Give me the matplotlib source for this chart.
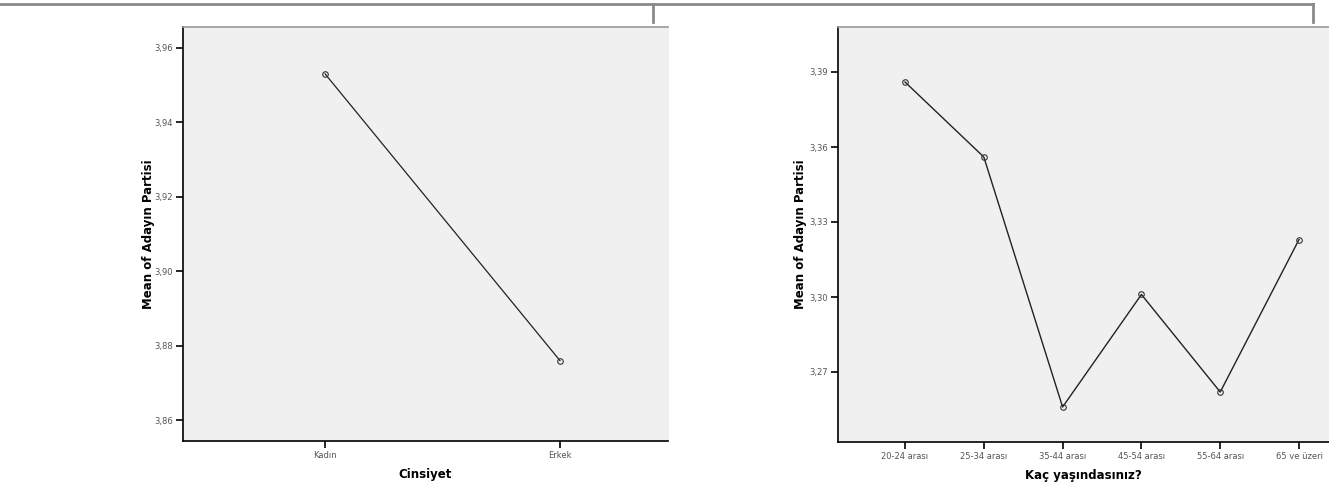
import matplotlib.pyplot as plt
from matplotlib.lines import Line2D
from matplotlib.ticker import FuncFormatter

# left panel: gender
gender_labels = ["Kadın", "Erkek"]
gender_means = [3.953, 3.876]
gender_ticks = [3.86, 3.88, 3.90, 3.92, 3.94, 3.96]

# right panel: age groups
age_labels = ["20-24 arası", "25-34 arası", "35-44 arası",
              "45-54 arası", "55-64 arası", "65 ve üzeri"]
age_means = [3.386, 3.356, 3.256, 3.301, 3.262, 3.323]
age_ticks = [3.27, 3.30, 3.33, 3.36, 3.39]

W, H = 1329, 495
fig = plt.figure(figsize=(W / 100, H / 100), dpi=100)
plt.rcParams['font.family'] = ['DejaVu Sans']


def box(x0, y0, x1, y1):
    # pixel box -> figure fraction rect
    return [x0 / W, 1 - y1 / H, (x1 - x0) / W, (y1 - y0) / H]


def comma(v, _):
    return f"{v:.2f}".replace(".", ",")


def style(ax, ticks, xlabel, ypad):
    ax.set_facecolor("#f0f0f0")
    ax.spines["top"].set_color("#999999")
    ax.spines["top"].set_linewidth(1.2)
    ax.spines["right"].set_color("#f0f0f0")
    for s in ("left", "bottom"):
        ax.spines[s].set_color("black")
        ax.spines[s].set_linewidth(1.2)
    ax.set_yticks(ticks)
    ax.yaxis.set_major_formatter(FuncFormatter(comma))
    ax.tick_params(axis="both", length=5, width=1.2, color="black",
                   labelsize=6, labelcolor="#555555", pad=2)
    ax.set_ylabel("Mean of Adayın Partisi", fontsize=8.5, fontweight="bold",
                  labelpad=ypad)
    ax.set_xlabel(xlabel, fontsize=8.5, fontweight="bold", labelpad=6)


ax1 = fig.add_axes(box(183, 27, 668, 441))
x1 = range(len(gender_labels))
ax1.plot(x1, gender_means, color="#222222", lw=0.9, marker="o", ms=4,
         mfc="none", mec="#333333", mew=0.8)
ax1.set_xticks(list(x1))
ax1.set_xticklabels(gender_labels)
ax1.set_xlim(-0.605, 1.46)
ax1.set_ylim(3.8544, 3.9656)
style(ax1, gender_ticks, "Cinsiyet", 0)

ax2 = fig.add_axes(box(838, 27, 1329, 442))
x2 = range(len(age_labels))
ax2.plot(x2, age_means, color="#222222", lw=1.0, marker="o", ms=4,
         mfc="none", mec="#333333", mew=0.8)
ax2.set_xticks(list(x2))
ax2.set_xticklabels(age_labels)
ax2.set_xlim(-0.85, 5.38)
ax2.set_ylim(3.242, 3.408)
style(ax2, age_ticks, "Kaç yaşındasınız?", 2)

# bracket on top
gray = "#8a8a8a"
fig.add_artist(Line2D([0, 1313 / W], [1 - 4 / H, 1 - 4 / H],
                      transform=fig.transFigure, color=gray, lw=2))
for px in (653, 1313):
    fig.add_artist(Line2D([px / W, px / W], [1 - 4 / H, 1 - 22 / H],
                          transform=fig.transFigure, color=gray, lw=2))

fig.savefig("out.png", dpi=100, facecolor="white")
